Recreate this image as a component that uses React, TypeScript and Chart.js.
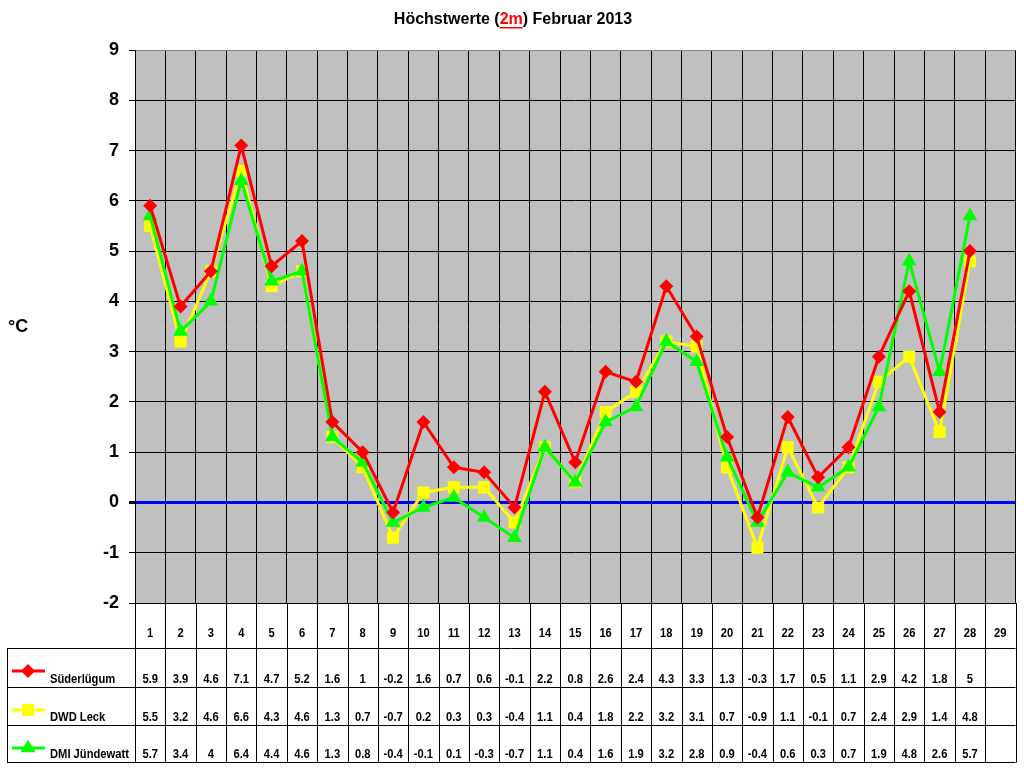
import { useEffect, useRef } from "react";
import { Chart, registerables } from "chart.js";

Chart.register(...registerables);

const FONT = "Arial, 'Liberation Sans', sans-serif";

// Tage im Februar (29 Spalten, die letzte ohne Werte)
const days = [
  "1", "2", "3", "4", "5", "6", "7", "8", "9", "10", "11", "12", "13", "14", "15",
  "16", "17", "18", "19", "20", "21", "22", "23", "24", "25", "26", "27", "28", "29",
];

const suederluegum = [
  5.9, 3.9, 4.6, 7.1, 4.7, 5.2, 1.6, 1, -0.2, 1.6, 0.7, 0.6, -0.1, 2.2, 0.8, 2.6, 2.4,
  4.3, 3.3, 1.3, -0.3, 1.7, 0.5, 1.1, 2.9, 4.2, 1.8, 5,
];

const dwdLeck = [
  5.5, 3.2, 4.6, 6.6, 4.3, 4.6, 1.3, 0.7, -0.7, 0.2, 0.3, 0.3, -0.4, 1.1, 0.4, 1.8, 2.2,
  3.2, 3.1, 0.7, -0.9, 1.1, -0.1, 0.7, 2.4, 2.9, 1.4, 4.8,
];

const dmiJuendewatt = [
  5.7, 3.4, 4, 6.4, 4.4, 4.6, 1.3, 0.8, -0.4, -0.1, 0.1, -0.3, -0.7, 1.1, 0.4, 1.6, 1.9,
  3.2, 2.8, 0.9, -0.4, 0.6, 0.3, 0.7, 1.9, 4.8, 2.6, 5.7,
];

const yMin = -2;
const yMax = 9;

const series = [
  { label: "Süderlügum", data: suederluegum, color: "#FF0000", style: "rectRot", radius: 7, order: 0 },
  { label: "DWD Leck", data: dwdLeck, color: "#FFFF00", style: "rect", radius: 8.5, order: 2 },
  { label: "DMI Jündewatt", data: dmiJuendewatt, color: "#00FF00", style: "triangle", radius: 8.5, order: 1 },
];

function drawMarker(ctx: CanvasRenderingContext2D, style: string, x: number, y: number, r: number, color: string) {
  ctx.fillStyle = color;
  ctx.beginPath();
  if (style === "rectRot") {
    ctx.moveTo(x, y - r);
    ctx.lineTo(x + r, y);
    ctx.lineTo(x, y + r);
    ctx.lineTo(x - r, y);
  } else if (style === "rect") {
    const s = r * Math.SQRT1_2;
    ctx.rect(x - s, y - s, 2 * s, 2 * s);
  } else {
    const h = r * Math.sin(Math.PI / 3);
    ctx.moveTo(x, y - r);
    ctx.lineTo(x + h, y + r / 2);
    ctx.lineTo(x - h, y + r / 2);
  }
  ctx.closePath();
  ctx.fill();
}

// schmal gezeichneter Text wie in der Excel-Tabelle
function condensedText(ctx: CanvasRenderingContext2D, text: string, x: number, y: number, align: CanvasTextAlign) {
  ctx.save();
  ctx.translate(x, y);
  ctx.scale(0.86, 1);
  ctx.textAlign = align;
  ctx.fillText(text, 0, 0);
  ctx.restore();
}

const plotBackground = {
  id: "plotBackground",
  beforeDraw(chart: any) {
    const { ctx, chartArea } = chart;
    ctx.save();
    ctx.fillStyle = "#C0C0C0";
    ctx.fillRect(chartArea.left, chartArea.top, chartArea.right - chartArea.left, chartArea.bottom - chartArea.top);
    ctx.restore();
  },
};

const titleAndTable = {
  id: "titleAndTable",
  afterDraw(chart: any) {
    const { ctx, chartArea, scales } = chart;
    const x = scales.x;
    ctx.save();

    // Titel mit rotem, unterstrichenem "2m"
    ctx.font = `bold 16px ${FONT}`;
    ctx.textBaseline = "middle";
    ctx.textAlign = "left";
    const parts = ["Höchstwerte (", "2m", ") Februar 2013"];
    const widths = parts.map((p) => ctx.measureText(p).width);
    let tx = 513 - widths.reduce((a, b) => a + b, 0) / 2;
    const ty = 20;
    parts.forEach((p, i) => {
      ctx.fillStyle = i === 1 ? "#FF0000" : "#000000";
      ctx.fillText(p, tx, ty);
      if (i === 1) {
        ctx.fillRect(tx, ty + 7, widths[i], 1.5);
      }
      tx += widths[i];
    });

    // Achsentitel
    ctx.font = `bold 18px ${FONT}`;
    ctx.fillStyle = "#000";
    ctx.fillText("°C", 8, 327);

    // Datentabelle
    const n = days.length;
    const bounds: number[] = [];
    for (let i = 0; i <= n; i++) {
      if (i === 0) bounds.push(chartArea.left);
      else if (i === n) bounds.push(chartArea.right);
      else bounds.push((x.getPixelForValue(i - 1) + x.getPixelForValue(i)) / 2);
    }
    const rowLines = [648, 687, 725, 762];
    const tableLeft = 7;

    ctx.strokeStyle = "#000";
    ctx.lineWidth = 1;
    ctx.beginPath();
    rowLines.forEach((ry) => {
      ctx.moveTo(tableLeft, Math.round(ry) + 0.5);
      ctx.lineTo(chartArea.right, Math.round(ry) + 0.5);
    });
    bounds.forEach((bx) => {
      ctx.moveTo(Math.round(bx) + 0.5, chartArea.bottom);
      ctx.lineTo(Math.round(bx) + 0.5, rowLines[3] + 0.5);
    });
    ctx.moveTo(tableLeft + 0.5, rowLines[0]);
    ctx.lineTo(tableLeft + 0.5, rowLines[3] + 0.5);
    ctx.stroke();

    ctx.font = `bold 13px ${FONT}`;
    ctx.textBaseline = "middle";
    ctx.fillStyle = "#000";
    days.forEach((d, i) => {
      condensedText(ctx, d, x.getPixelForValue(i), 633, "center");
    });

    series.forEach((s, r) => {
      const top = rowLines[r];
      const bottom = rowLines[r + 1];
      const textY = bottom - 8;
      ctx.fillStyle = "#000";
      s.data.forEach((v, i) => {
        condensedText(ctx, String(v), x.getPixelForValue(i), textY, "center");
      });
      // Legendenschlüssel
      const ly = top + 23;
      ctx.strokeStyle = s.color;
      ctx.lineWidth = 3;
      ctx.beginPath();
      ctx.moveTo(12, ly);
      ctx.lineTo(45, ly);
      ctx.stroke();
      drawMarker(ctx, s.style, 28, ly, s.radius, s.color);
      ctx.fillStyle = "#000";
      condensedText(ctx, s.label, 50, textY, "left");
    });

    ctx.restore();
  },
};

const App = () => {
  const chartRef = useRef<HTMLCanvasElement | null>(null);

  useEffect(() => {
    if (!chartRef.current) return;

    const chart = new Chart(chartRef.current, {
      type: "line",
      data: {
        labels: days,
        datasets: series.map((s) => ({
          label: s.label,
          data: s.data,
          borderColor: s.color,
          backgroundColor: s.color,
          borderWidth: 3,
          pointStyle: s.style as any,
          pointRadius: s.radius,
          pointBorderWidth: 0,
          pointBackgroundColor: s.color,
          tension: 0,
          fill: false,
          order: s.order,
        })),
      },
      options: {
        responsive: false,
        animation: false,
        layout: { padding: { top: 50, right: 6, bottom: 0, left: 0 } },
        plugins: {
          legend: { display: false },
          title: { display: false },
          tooltip: { enabled: false },
        },
        scales: {
          x: {
            offset: true,
            grid: { offset: true, color: "#000", lineWidth: 1, drawTicks: false },
            border: { color: "#000", width: 1 },
            ticks: { display: false, autoSkip: false, maxRotation: 0 },
            afterFit: (s: any) => {
              s.height = 165;
              s.paddingLeft = 0;
              s.paddingRight = 0;
            },
          },
          y: {
            min: yMin,
            max: yMax,
            ticks: {
              stepSize: 1,
              padding: 10,
              color: "#000",
              font: { family: FONT, size: 18, weight: "bold" },
            },
            grid: {
              color: (c: any) => (c.tick && c.tick.value === 0 ? "#0000EE" : c.tick && c.tick.value === yMax ? "#808080" : "#000"),
              lineWidth: (c: any) => (c.tick && c.tick.value === 0 ? 3 : 1),
              tickColor: "#000",
              tickLength: 6,
            },
            border: { color: "#000", width: 1 },
            afterFit: (s: any) => {
              s.width = 135;
            },
          },
        },
      },
      plugins: [plotBackground, titleAndTable],
    });

    return () => {
      chart.destroy();
    };
  }, []);

  return (
    <div style={{ position: "absolute", left: 0, top: 0, width: 1024, height: 768, background: "#fff" }}>
      <canvas ref={chartRef} width={1024} height={768} />
    </div>
  );
};

export default App;
